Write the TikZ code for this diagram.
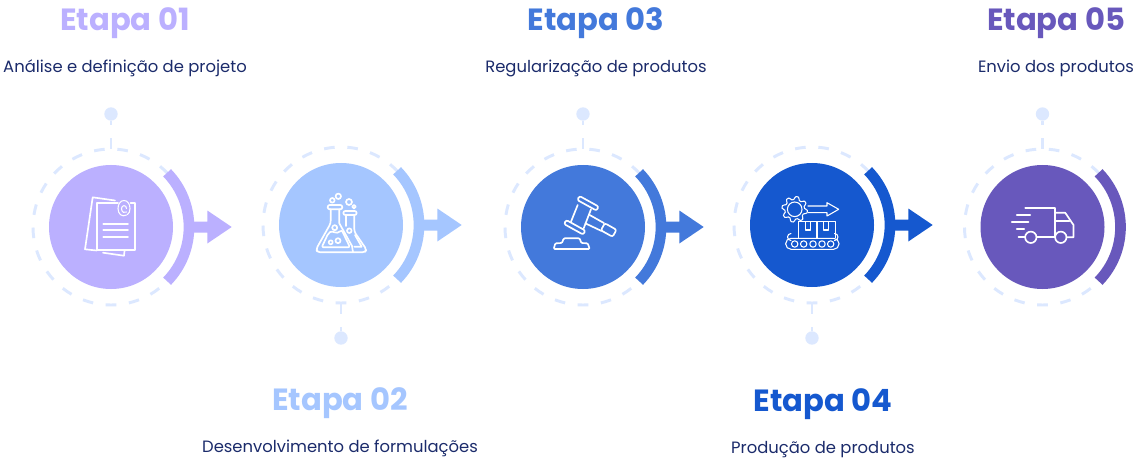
\documentclass[tikz,border=0pt]{standalone}
\usepackage{fontspec}
\setmainfont{Poppins}
\definecolor{cA}{HTML}{BBB0FF}
\definecolor{cB}{HTML}{A5C6FF}
\definecolor{cC}{HTML}{4379DB}
\definecolor{cD}{HTML}{1558CF}
\definecolor{cE}{HTML}{6858BC}
\definecolor{ringc}{HTML}{DCE8FF}
\definecolor{navy}{HTML}{1B2B6B}
\tikzset{
  x=0.75pt,y=0.75pt,
  disc/.style={circle,inner sep=0,minimum size=93pt},
  pindot/.style={circle,inner sep=0,minimum size=10pt,fill=ringc},
  stem/.style={draw=ringc,line width=2.2pt,dash pattern=on 8.25pt off 9.75pt on 3pt},
  ringdash/.style={draw=ringc,line width=2.2pt},
  bigarc/.style={line width=8pt},
  ico/.style={draw=white,line width=1.25pt,line join=round,line cap=round},
  icothin/.style={draw=white,line width=.8pt,line join=round,line cap=round},
  titletext/.style={font=\fontsize{23pt}{27pt}\selectfont\bfseries,anchor=base},
  subtext/.style={font=\fontsize{12.3pt}{15pt}\selectfont,text=navy,anchor=base},
}
\begin{document}
\begin{tikzpicture}
\useasboundingbox (0,-460) rectangle (1140,0);
\fill[white] (0,-460) rectangle (1140,0);
% steps: index / x / y / colour / pin direction
\foreach \i/\cx/\cy/\col/\dir in {1/111/227/cA/1,2/341/225/cB/-1,3/583/227/cC/1,4/812/225/cD/-1,5/1042.5/227/cE/1}{
  \begin{scope}[shift={(\cx,-\cy)}]
    \foreach \k in {0,...,20}{
      \pgfmathsetmacro\aa{270+\k*17.143-3.9}
      \draw[ringdash] (\aa:78) arc[start angle=\aa,delta angle=7.8,radius=78];
    }
    \draw[\col,bigarc] (-44:78) arc[start angle=-44,delta angle=88,radius=78];
    \node[disc,fill=\col] (c\i) at (0,0) {};
    \coordinate (r\i) at (0,78*\dir);
    \node[pindot] (p\i) at (0,113*\dir) {};
    \draw[stem] (r\i) -- (p\i);
  \end{scope}
}
% arrows
\foreach \i/\cx/\cy/\col in {1/111/227/cA,2/341/225/cB,3/583/227/cC,4/812/225/cD}{
  \fill[\col,shift={(\cx,-\cy)}] (81,5.5) -- (96.3,5.5) -- (96.3,16.5) -- (120.7,0) -- (96.3,-16.5) -- (96.3,-5.5) -- (81,-5.5) -- cycle;
}
% icon 1: documents
\begin{scope}[shift={(111,-227)},y=-0.75pt]
  \draw[ico] (4,-26.5) -- (-18.3,-29.7) -- (-26,22.3) -- (-14.3,23.5);
  \draw[ico] (-8,25.7) -- (13,28.7) -- (13.5,24);
  \draw[ico] (7,-24.3) -- (-14.3,-24.3) -- (-14.3,23) -- (24.3,23) -- (24.3,-24.3) -- (19.5,-24.3);
  \draw[icothin] (15.5,-12) .. controls (11,-9.5) and (7,-13) .. (7,-18.5) .. controls (7,-23) and (9.5,-26.5) .. (13,-26.5) .. controls (16.5,-26.5) and (19,-23) .. (19,-18.5) .. controls (19,-15.5) and (18,-13.5) .. (16.5,-12.5);
  \draw[icothin] (15.5,-15) .. controls (14,-13.5) and (10.5,-14.5) .. (10.5,-18.5) .. controls (10.5,-22) and (15.5,-22.5) .. (15.5,-18.5);
  \draw[ico] (-7.7,-3.3) -- (17,-3.3) (-7.7,3) -- (17,3) (-7.7,9.7) -- (17,9.7);
\end{scope}
% icon 2: flasks
\begin{scope}[shift={(341,-225)},y=-0.75pt]
  \draw[ico,rounded corners=1.5] (-13.3,-20) rectangle (1.3,-15.7);
  \draw[ico,rounded corners=1.5] (2.3,-14) rectangle (15.7,-10);
  \draw[ico,rounded corners=2] (-10.3,-15.7) -- (-10.3,-1.7) -- (-24.8,24) -- (-23.5,27.3) -- (24,27.3) -- (25.5,24.5) -- (13.3,6.7) -- (13.3,-10);
  \draw[ico] (-1.7,-15.7) -- (-1.7,-1.7) -- (11,21) -- (12,27.3);
  \draw[ico] (4.7,-10) -- (4.7,1);
  \draw[ico,rounded corners=1.5] (-19.3,22.3) -- (-12.7,8.3) .. controls (-8,5) and (-5,10) .. (0.7,5) -- (9,22.3) -- cycle;
  \draw[ico] (14,10) -- (20.7,21.7) -- (13.3,21.7);
  \foreach \bx/\by/\br in {-6.3/2.7/2.5,-10.3/17.3/2,-3/15.7/2.5,-8.7/-24.7/2.3,-2.7/-28.7/2.7,8/-23/3,13/-18.3/1.8,8.3/5.7/2.3}{
    \draw[ico] (\bx,\by) circle[radius=\br];
  }
\end{scope}
% icon 3: gavel
\begin{scope}[shift={(583,-227)},y=-0.75pt]
  \draw[ico,rounded corners=1.5] (-3.5,-31) -- (15.7,-20.4) -- (13.5,-16.4) -- (-5.7,-27) -- cycle;
  \draw[ico,rounded corners=1.5] (-16.8,-7) -- (2.4,3.6) -- (0.2,7.6) -- (-19,-3) -- cycle;
  \draw[ico] (-5.3,-22) -- (-12,-5.3) (8,-17.7) -- (0.7,1.3);
  \draw[ico] (6.7,-12) -- (21,-3.9) (2.3,-3.7) -- (18.5,4);
  \draw[ico,rounded corners=1.5] (21.8,-3.8) -- (33.5,2.8) -- (29.6,9.8) -- (17.9,3.3) -- cycle;
  \draw[ico,rounded corners=0.8] (-27.7,16.3) -- (-21,16) -- (-19.3,11.3) -- (-3.3,11.3) -- (-1.7,16) -- (4.7,16.3) -- (6.7,22) -- (-29.3,22) -- cycle;
\end{scope}
% icon 4: conveyor
\begin{scope}[shift={(812,-225)},y=-0.75pt]
  \draw[icothin] (-17.3,-15.7) circle[radius=7.3];
  \draw[icothin] plot[samples=65,domain=0:360,smooth] ({-17.3+(11.3+1.5*tanh(3*sin(8*\x)))*cos(\x)},{-15.7+(11.3+1.5*tanh(3*sin(8*\x)))*sin(\x)});
  \draw[icothin] (-4,-19) -- (15,-19) -- (15,-22.3) -- (26.7,-15.7) -- (15,-9) -- (15,-12.3) -- (-4,-12.3);
  \draw[icothin] (-13.3,12.7) -- (-13.3,-3.3) -- (5,-3.3) -- (5,12.7) (5,-3.3) -- (23.3,-3.3) -- (23.3,12.7);
  \draw[icothin] (-6.7,-3.3) -- (-6.7,5) -- (-1.7,5) -- (-1.7,-3.3) (11.7,-3.3) -- (11.7,5) -- (16.7,5) -- (16.7,-3.3);
  \draw[icothin,rounded corners=4] (-26.3,13.3) rectangle (27,24.3);
  \foreach \bx in {-17.3,-8.3,1,10,18.7}{ \draw[icothin] (\bx,19) circle[radius=3.2]; }
  \draw[icothin] (-21,15.5) arc[start angle=90,end angle=270,radius=3.5];
  \draw[icothin] (22.5,15.5) arc[start angle=90,end angle=-90,radius=3.5];
\end{scope}
% icon 5: truck
\begin{scope}[shift={(1042.5,-227)},y=-0.75pt]
  \draw[ico] (-17.3,-18.7) -- (12.7,-18.7) -- (12.7,10.3) -- (-6,10.3);
  \draw[ico] (12.7,-14.3) -- (22.7,-14.3) -- (31,-2) -- (31,10.3) -- (24,10.3);
  \draw[ico] (12.7,-6.3) -- (27,-6.3);
  \draw[ico] (-11.7,10.3) circle[radius=5.7] (18.3,10.3) circle[radius=5.7];
  \draw[ico] (-25.7,-12) -- (-12.3,-12) (-30.7,-4.7) -- (-14,-4.7) (-25.7,2.3) -- (-18.3,2.3) (-24,9.7) -- (-17.3,9.7);
\end{scope}
% labels
\node[titletext,text=cA] (t1) at (125,-31) {Etapa 01};
\node[subtext] (s1) at (125,-73) {Análise e definição de projeto};
\node[titletext,text=cB] (t2) at (340,-410) {Etapa 02};
\node[subtext] (s2) at (340,-452) {Desenvolvimento de formulações};
\node[titletext,text=cC] (t3) at (596,-31) {Etapa 03};
\node[subtext] (s3) at (596,-73) {Regularização de produtos};
\node[titletext,text=cD] (t4) at (823,-411) {Etapa 04};
\node[subtext] (s4) at (823,-453) {Produção de produtos};
\node[titletext,text=cE] (t5) at (1056,-31) {Etapa 05};
\node[subtext] (s5) at (1056,-73) {Envio dos produtos};
\end{tikzpicture}
\end{document}
